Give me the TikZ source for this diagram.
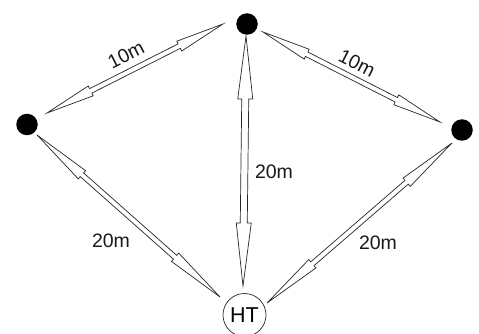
\documentclass[tikz,border=0pt]{standalone}
\usepackage{fontspec}
\setmainfont{Liberation Sans}
\usetikzlibrary{calc}
\newcommand\hollowarrow[5]{%
  \path ($(#1)!#3!(#2)$) coordinate (hb1) ($(#2)!#3!(#1)$) coordinate (hb2);
  \draw[arrowline] (#1) -- ($(hb1)!#4!90:(#2)$) -- ($(hb1)!#5!90:(#2)$)
    -- ($(hb2)!#5!-90:(#1)$) -- ($(hb2)!#4!-90:(#1)$) -- (#2)
    -- ($(hb2)!#4!90:(#1)$) -- ($(hb2)!#5!90:(#1)$)
    -- ($(hb1)!#5!-90:(#2)$) -- ($(hb1)!#4!-90:(#2)$) -- cycle;
}
\begin{document}
\begin{tikzpicture}[x=1pt,y=-1pt,
  dot/.style={circle,fill=black,minimum size=21.5pt,inner sep=0pt},
  htnode/.style={circle,draw=black!85,line width=0.7pt,minimum size=43pt,inner sep=0pt,font=\fontsize{21.5}{21.5}\selectfont},
  arrowline/.style={draw=black!85,line width=0.7pt,line join=miter,fill=white},
  lbl/.style={font=\fontsize{19.5}{19.5}\selectfont,inner sep=0pt,text=black!90}]
\useasboundingbox (0,0) rectangle (479,334);
\fill[white] (0,0) rectangle (479,334);
\node[dot] (L) at (27,124.5) {};
\node[dot] (T) at (247,24) {};
\node[dot] (R) at (462,130) {};
\node[htnode] (HT) at (244.5,315) {HT};
% arrow end points
\coordinate (a1s) at (47,113);   \coordinate (a1e) at (223,24);
\coordinate (a2s) at (263,32);   \coordinate (a2e) at (440,122);
\coordinate (a3s) at (246,36);   \coordinate (a3e) at (243,286);
\coordinate (a4s) at (37,135);   \coordinate (a4e) at (220,297);
\coordinate (a5s) at (267,303);  \coordinate (a5e) at (452,143);
\hollowarrow{a1s}{a1e}{49pt}{5.5pt}{2.5pt}
\hollowarrow{a2s}{a2e}{49pt}{5.5pt}{2.5pt}
\hollowarrow{a3s}{a3e}{63pt}{7.5pt}{3.5pt}
\hollowarrow{a4s}{a4e}{60pt}{5.5pt}{2.5pt}
\hollowarrow{a5s}{a5e}{60pt}{5.5pt}{2.5pt}
\node[lbl,rotate=27] (l1) at (126,55) {10m};
\node[lbl,rotate=-27] (l2) at (357,63) {10m};
\node[lbl] (l3) at (274,172) {20m};
\node[lbl] (l4) at (111,241) {20m};
\node[lbl] (l5) at (378,243) {20m};
\end{tikzpicture}
\end{document}
